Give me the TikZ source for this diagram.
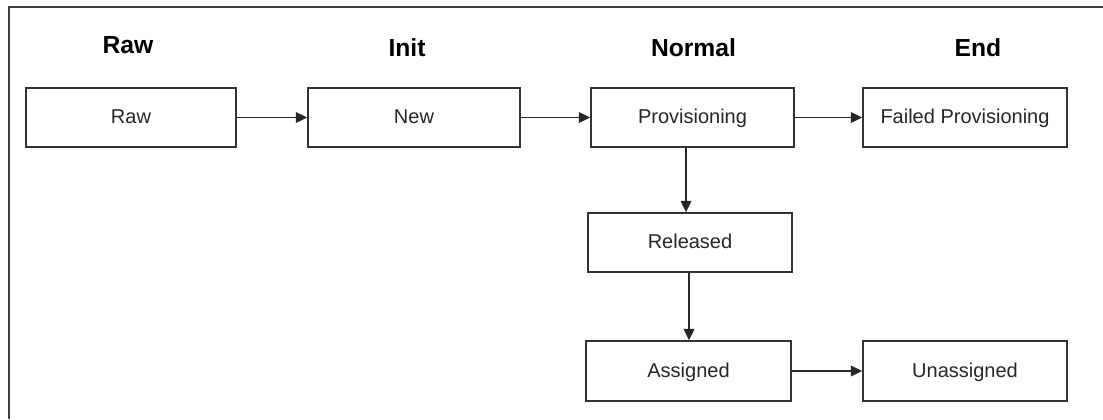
\documentclass[tikz,border=0pt]{standalone}
\usepackage{fontspec}
\setmainfont{Liberation Sans}
\usetikzlibrary{arrows.meta}
\begin{document}
\begin{tikzpicture}[x=0.75pt,y=-0.75pt,
  state/.style={draw=black!80, line width=1.2pt, fill=white, minimum height=44.25pt,
    inner sep=0pt, text height=12pt, text depth=2.8pt,
    font=\fontsize{15pt}{18pt}\selectfont, text=black!85},
  phase/.style={anchor=base, font=\bfseries\fontsize{18.5pt}{22pt}\selectfont},
  flow/.style={draw=black!85, line width=1.1pt, -{Triangle[length=8.5pt,width=8pt]}},
  frame/.style={draw=black!75, line width=1.5pt}]
  \useasboundingbox (0,0) rectangle (1103,419);

  % open frame (left and top edges)
  \draw[frame] (9,419) -- (9,7) -- (1103,7);

  % phase headings
  \node[phase] (hraw)    at (128,53)   {Raw};
  \node[phase] (hinit)   at (407,56)   {Init};
  \node[phase] (hnormal) at (693.5,56) {Normal};
  \node[phase] (hend)    at (978,56)   {End};

  % states
  \node[state, minimum width=157.5pt]  (raw)    at (131,117.5)   {Raw};
  \node[state, minimum width=159pt]    (new)    at (414,117.5)   {New};
  \node[state, minimum width=152.25pt] (prov)   at (692.5,117.5) {Provisioning};
  \node[state, minimum width=153pt]    (failed) at (965,117.5)   {Failed Provisioning};
  \node[state, minimum width=153pt]    (rel)    at (690,242.5)   {Released};
  \node[state, minimum width=153.75pt, minimum height=45pt] (asg) at (688.5,371) {Assigned};
  \node[state, minimum width=153pt, minimum height=45pt]    (unasg) at (965,371) {Unassigned};

  % transitions
  \draw[flow] (raw) -- (new);
  \draw[flow] (new) -- (prov);
  \draw[flow] (prov) -- (failed);
  \draw[flow] ([xshift=-4.875pt]prov.south) -- ([xshift=-4.875pt]prov.south |- rel.north);
  \draw[flow] ([xshift=-0.75pt]rel.south) -- ([xshift=-0.75pt]rel.south |- asg.north);
  \draw[flow] (asg) -- (unasg);
\end{tikzpicture}
\end{document}
